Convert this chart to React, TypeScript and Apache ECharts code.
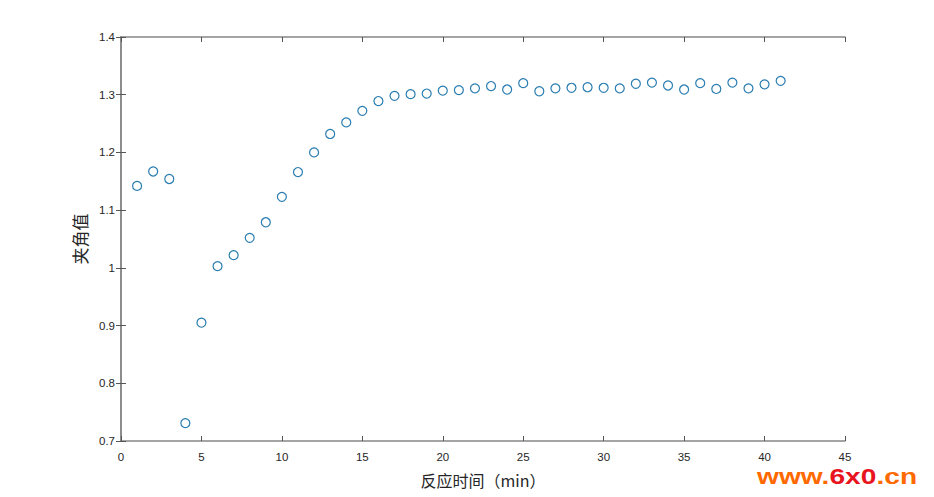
import React, { useEffect, useRef } from "react";
import * as echarts from "echarts";

const times = [1,2,3,4,5,6,7,8,9,10,11,12,13,14,15,16,17,18,19,20,21,22,23,24,25,26,27,28,29,30,31,32,33,34,35,36,37,38,39,40,41];
const angles = [1.142,1.167,1.154,0.731,0.905,1.003,1.022,1.052,1.079,1.123,1.166,1.2,1.232,1.252,1.272,1.289,1.298,1.301,1.302,1.307,1.308,1.311,1.315,1.309,1.32,1.306,1.311,1.312,1.313,1.312,1.311,1.319,1.321,1.316,1.309,1.32,1.31,1.321,1.311,1.318,1.324];
const xTitle = "反应时间（min）";
const yTitle = "夹角值";

export default function App() {
  const ref = useRef<HTMLDivElement>(null);
  useEffect(() => {
    const chart = echarts.init(ref.current!, null, { renderer: "svg" });
    const axisLine = { show: true, lineStyle: { color: "#868686", width: 1.5 } };
    const tick = { show: true, inside: true, length: 5, lineStyle: { color: "#555555", width: 1 } };
    const lab = { color: "#262626", fontSize: 11.5, fontFamily: "Liberation Sans, Arial, sans-serif" };
    chart.setOption({
      animation: false,
      backgroundColor: "#ffffff",
      grid: { left: 121, right: 89, top: 37, bottom: 56 },
      xAxis: [
        {
          type: "value", min: 0, max: 45, interval: 5, position: "bottom",
          axisLine, axisTick: tick, splitLine: { show: false },
          axisLabel: { ...lab, margin: 10 },
          name: xTitle, nameLocation: "middle", nameGap: 31,
          nameTextStyle: { fontSize: 16, color: "#262626", fontFamily: "Noto Sans CJK SC, serif" },
        },
        {
          type: "value", min: 0, max: 45, interval: 5, position: "top",
          axisLine, axisTick: tick, splitLine: { show: false }, axisLabel: { show: false },
        },
      ],
      yAxis: [
        {
          type: "value", min: 0.7, max: 1.4, interval: 0.1, position: "left",
          axisLine, axisTick: tick, splitLine: { show: false },
          axisLabel: { ...lab, margin: 6, formatter: (v: number) => String(Math.round(v * 10) / 10) },
          name: yTitle, nameLocation: "middle", nameGap: 30, nameRotate: 90,
          nameTextStyle: { fontSize: 17, color: "#262626", fontFamily: "Noto Sans CJK SC, serif" },
        },
        {
          type: "value", min: 0.7, max: 1.4, interval: 0.1, position: "right",
          axisLine, axisTick: tick, splitLine: { show: false }, axisLabel: { show: false },
        },
      ],
      series: [
        {
          type: "scatter",
          xAxisIndex: 0,
          yAxisIndex: 0,
          data: times.map((t, i) => [t, angles[i]]),
          symbol: "circle",
          symbolSize: 9,
          itemStyle: { color: "rgba(255,255,255,0)", borderColor: "#2a7db0", borderWidth: 1.2, opacity: 1 },
          z: 5,
        },
      ],
      graphic: [
        {
          type: "text",
          x: 757,
          y: 465,
          scaleX: 1.28,
          style: {
            text: "{a|www.}{b|6x0}{a|.cn}",
            rich: {
              a: { fill: "#ff6a00", fontSize: 22, fontWeight: "bold", fontFamily: "Liberation Sans, Arial, sans-serif" },
              b: { fill: "#e8141e", fontSize: 22, fontWeight: "bold", fontFamily: "Liberation Sans, Arial, sans-serif" },
            },
          },
        },
      ],
    });
    return () => chart.dispose();
  }, []);
  return <div ref={ref} style={{ position: "fixed", left: 0, top: 0, width: 934, height: 497 }} />;
}
